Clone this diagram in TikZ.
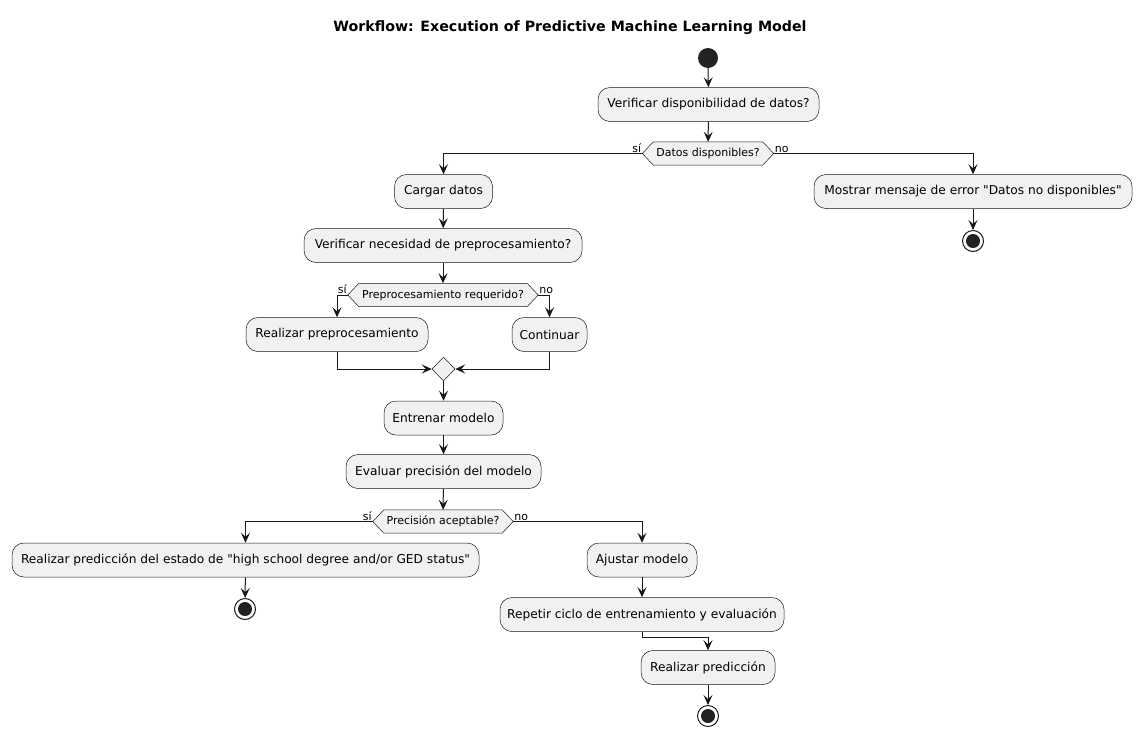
\documentclass[tikz,border=0pt]{standalone}
\usepackage{fontspec}
\setmainfont{DejaVu Sans}[Ligatures=TeXOff]
\usetikzlibrary{arrows.meta,backgrounds,shapes.geometric}
\definecolor{boxfill}{HTML}{F1F1F1}
\definecolor{ink}{HTML}{181818}
\definecolor{dot}{HTML}{222222}
\tikzset{
  x=1pt,y=-1pt,
  act/.style={draw=ink,line width=0.5pt,fill=boxfill,rounded corners=12pt,minimum height=34pt,inner sep=0pt,font=\fontsize{12.2}{14}\selectfont},
  hexn/.style={inner sep=0pt,minimum height=23pt,font=\fontsize{11}{13}\selectfont},
  hexline/.style={draw=ink,line width=0.5pt,fill=boxfill},
  mergen/.style={draw=ink,line width=0.5pt,fill=boxfill,shape=diamond,minimum width=23pt,minimum height=24pt,inner sep=0pt},
  startn/.style={circle,fill=dot,minimum size=20pt,inner sep=0pt},
  stopn/.style={circle,draw=ink,line width=1pt,fill=white,minimum size=21pt,inner sep=0pt},
  arr/.style={draw=ink,line width=1pt,-{Stealth[length=10pt,width=9pt,inset=4pt]}},
  elab/.style={inner sep=1pt,font=\fontsize{11}{12}\selectfont},
}
\newcommand{\hexpath}[1]{\draw[hexline] (#1.west) -- ([xshift=11pt]#1.north west) -- ([xshift=-11pt]#1.north east) -- (#1.east) -- ([xshift=-11pt]#1.south east) -- ([xshift=11pt]#1.south west) -- cycle;}
\begin{document}
\begin{tikzpicture}
\useasboundingbox (0,0) rectangle (1142,737);
\node[font=\bfseries\fontsize{14.2}{16}\selectfont] (title) at (570,28) {Workflow: Execution of Predictive Machine Learning Model};

\node[startn] (start) at (708,58) {};
\node[act,minimum width=221pt] (v1) at (708.5,104.5) {Verificar disponibilidad de datos?};
\node[hexn,minimum width=131pt] (d1) at (708,153.5) {Datos disponibles?};
\node[act,minimum width=98pt] (cargar) at (443.5,191.5) {Cargar datos};
\node[act,minimum width=318pt] (mostrar) at (973,191.5) {Mostrar mensaje de error "Datos no disponibles"};
\node[stopn] (stop1) at (973,241) {};
\node[act,minimum width=278pt] (v2) at (443,245.5) {Verificar necesidad de preprocesamiento?};
\node[hexn,minimum width=190pt] (d2) at (443,295) {Preprocesamiento requerido?};
\node[act,minimum width=182pt] (rp) at (337,334.5) {Realizar preprocesamiento};
\node[act,minimum width=75pt] (cont) at (549.5,334.5) {Continuar};
\node[mergen] (merge) at (443.5,369) {};
\node[act,minimum width=119pt] (entr) at (443.5,418) {Entrenar modelo};
\node[act,minimum width=195pt] (eval) at (443.5,471.5) {Evaluar precisión del modelo};
\node[hexn,minimum width=140pt] (d3) at (443,521.5) {Precisión aceptable?};
\node[act,minimum width=467pt] (pred1) at (245.5,560) {Realizar predicción del estado de "high school degree and/or GED status"};
\node[stopn] (stop2) at (245,609) {};
\node[act,minimum width=110pt] (ajust) at (642,560) {Ajustar modelo};
\node[act,minimum width=284pt] (rep) at (642,614.5) {Repetir ciclo de entrenamiento y evaluación};
\coordinate (bend) at (642,637);
\node[act,minimum width=134pt] (pred2) at (708,667.5) {Realizar predicción};
\node[stopn] (stop3) at (708,716) {};

\fill[dot] (stop1) circle (7);
\fill[dot] (stop2) circle (7);
\fill[dot] (stop3) circle (7);

\begin{scope}[on background layer]
\fill[white] (0,0) rectangle (1142,737);
\hexpath{d1}
\hexpath{d2}
\hexpath{d3}
\end{scope}

\draw[arr] (start) -- (v1);
\draw[arr] (v1) -- (d1);
\draw[arr] (d1.west) -| (cargar);
\draw[arr] (d1.east) -| (mostrar);
\node[elab,anchor=south east] (l1) at (d1.west) {sí};
\node[elab,anchor=south west] (l2) at (d1.east) {no};
\draw[arr] (mostrar) -- (stop1);
\draw[arr] (cargar) -- (v2);
\draw[arr] (v2) -- (d2);
\draw[arr] (d2.west) -| (rp);
\draw[arr] (d2.east) -| (cont);
\node[elab,anchor=south east] (l3) at (d2.west) {sí};
\node[elab,anchor=south west] (l4) at (d2.east) {no};
\draw[arr] (rp) |- (merge);
\draw[arr] (cont) |- (merge);
\draw[arr] (merge) -- (entr);
\draw[arr] (entr) -- (eval);
\draw[arr] (eval) -- (d3);
\draw[arr] (d3.west) -| (pred1);
\draw[arr] (d3.east) -| (ajust);
\node[elab,anchor=south east] (l5) at (d3.west) {sí};
\node[elab,anchor=south west] (l6) at (d3.east) {no};
\draw[arr] (pred1) -- (stop2);
\draw[arr] (ajust) -- (rep);
\draw[arr] (rep) -- (bend) -| (pred2);
\draw[arr] (pred2) -- (stop3);
\end{tikzpicture}
\end{document}
